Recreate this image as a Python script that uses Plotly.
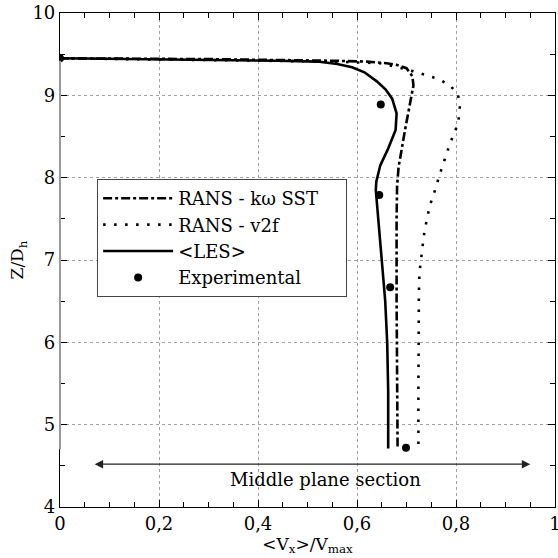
import plotly.graph_objects as go

# ---- data ----
les_x = [0.0, 0.2, 0.44, 0.52, 0.56, 0.59, 0.615, 0.64, 0.658, 0.671, 0.68, 0.678, 0.662, 0.647, 0.639, 0.638, 0.641, 0.65, 0.657, 0.661, 0.663, 0.663]
les_z = [9.45, 9.44, 9.42, 9.41, 9.38, 9.34, 9.28, 9.17, 9.07, 8.96, 8.78, 8.58, 8.34, 8.15, 7.95, 7.85, 7.61, 7.0, 6.5, 6.0, 5.4, 4.71]

sst_x = [0.0, 0.3, 0.55, 0.62, 0.66, 0.68, 0.70, 0.712, 0.714, 0.712, 0.71, 0.704, 0.697, 0.689, 0.684, 0.681, 0.68, 0.68, 0.681, 0.682]
sst_z = [9.45, 9.44, 9.42, 9.41, 9.39, 9.37, 9.33, 9.23, 9.12, 9.06, 9.0, 8.8, 8.58, 8.3, 8.13, 7.9, 7.5, 6.5, 5.5, 4.72]

v2f_x = [0.0, 0.3, 0.55, 0.646, 0.69, 0.727, 0.747, 0.768, 0.787, 0.803, 0.808, 0.807, 0.803, 0.795, 0.787, 0.78, 0.773, 0.766, 0.76, 0.753, 0.746, 0.742, 0.737, 0.734, 0.731, 0.729, 0.726, 0.725, 0.724, 0.724, 0.724]
v2f_z = [9.45, 9.43, 9.41, 9.39, 9.33, 9.27, 9.23, 9.19, 9.12, 9.03, 8.9, 8.77, 8.64, 8.52, 8.4, 8.27, 8.15, 8.02, 7.89, 7.76, 7.64, 7.51, 7.38, 7.24, 7.11, 6.98, 6.84, 6.6, 6.0, 5.4, 4.72]

exp_x = [0.0, 0.648, 0.645, 0.667, 0.699]
exp_z = [9.45, 8.89, 7.79, 6.67, 4.72]

x_ticks = [0, 0.2, 0.4, 0.6, 0.8, 1.0]
x_ticktext = ["0", "0,2", "0,4", "0,6", "0,8", "1"]
y_ticks = [4, 5, 6, 7, 8, 9, 10]

section_label = "Middle plane section"
section_from, section_to, section_z = 0.067, 0.95, 4.52

FONT = "DejaVu Serif"
FS = 18
PAD = "&nbsp;" * 4  # extra room at the right of the legend box

fig = go.Figure()
fig.add_trace(go.Scatter(x=sst_x, y=sst_z, mode="lines", name="RANS - k\u03c9 SST" + PAD,
                         line=dict(color="black", width=2.6, dash="9px,3px,3px,3px")))
fig.add_trace(go.Scatter(x=v2f_x, y=v2f_z, mode="lines", name="RANS - v2f",
                         line=dict(color="black", width=2.6, dash="2.5px,8.5px")))
fig.add_trace(go.Scatter(x=les_x, y=les_z, mode="lines", name="&lt;LES&gt;",
                         line=dict(color="black", width=2.6)))
fig.add_trace(go.Scatter(x=exp_x, y=exp_z, mode="markers", name="Experimental",
                         marker=dict(color="black", size=8)))

# left axis colour change (gray between curve wall and bottom of section)
fig.add_shape(type="line", xref="x domain", yref="y", x0=0, x1=0, y0=4.7, y1=9.42,
              line=dict(color="#9a9a9a", width=2), layer="above")

fig.add_annotation(x=section_to, y=section_z, ax=section_from, ay=section_z,
                   xref="x", yref="y", axref="x", ayref="y", text="",
                   showarrow=True, arrowhead=2, startarrowhead=2, arrowside="end+start",
                   arrowsize=1.3, startarrowsize=1.3, arrowwidth=1.3, arrowcolor="#222")
fig.add_annotation(x=0.537, y=4.33, xref="x", yref="y", text=section_label,
                   showarrow=False, font=dict(family=FONT, size=FS, color="black"))

axis_common = dict(showline=True, linecolor="black", linewidth=1.2, mirror="allticks",
                   ticks="inside", ticklen=7, tickcolor="black",
                   showgrid=True, gridcolor="#a0a0a0", gridwidth=1, griddash="dot",
                   zeroline=False, ticklabeloverflow="allow", automargin=False,
                   tickfont=dict(family=FONT, size=FS, color="black"))

fig.update_xaxes(range=[0, 1], tickvals=x_ticks, ticktext=x_ticktext,
                 minor=dict(dtick=0.05, ticks="inside", ticklen=5, tickcolor="black", showgrid=False),
                 title=dict(text="&lt;V<sub>x</sub>&gt;/V<sub>max</sub>", font=dict(family=FONT, size=FS - 1, color="black"), standoff=2),
                 **axis_common)
fig.update_yaxes(range=[4, 10], tickvals=y_ticks,
                 minor=dict(dtick=0.5, ticks="inside", ticklen=5, tickcolor="black", showgrid=False),
                 title=dict(text="Z/D<sub>h</sub>", font=dict(family=FONT, size=FS - 1, color="black"), standoff=4),
                 **axis_common)

fig.update_layout(
    width=558, height=558,
    margin=dict(l=60, r=3, t=13, b=51, autoexpand=False),
    paper_bgcolor="white", plot_bgcolor="white",
    showlegend=True,
    legend=dict(x=0.075, y=0.664, xanchor="left", yanchor="top",
                bgcolor="white", bordercolor="#444", borderwidth=1,
                font=dict(family=FONT, size=FS, color="black"),
                itemwidth=70, tracegroupgap=0),
    font=dict(family=FONT, color="black"),
)

fig.write_html("out.html")
